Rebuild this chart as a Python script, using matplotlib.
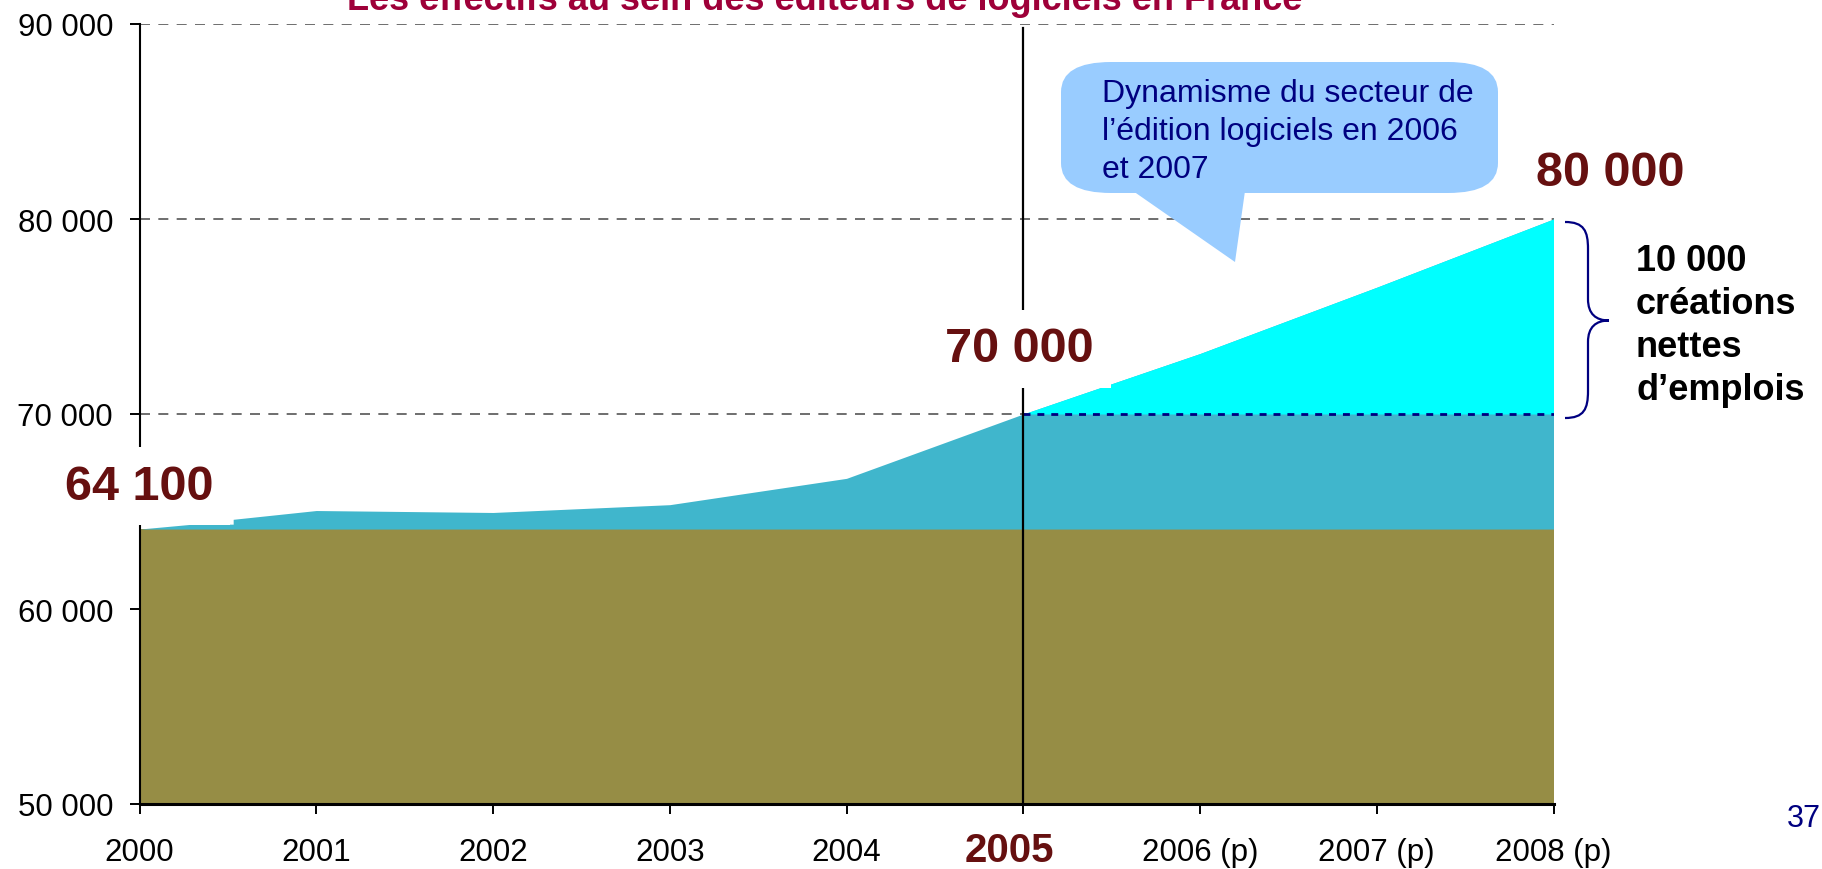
import numpy as np
import matplotlib.pyplot as plt
from matplotlib.patches import FancyBboxPatch, Polygon, PathPatch
from matplotlib.path import Path
from matplotlib.transforms import ScaledTranslation

plt.rcParams['font.family'] = ['Liberation Sans', 'DejaVu Sans']

# effectifs (edge of the area, with the small steps near 2000)
edge_x = [2000, 2000.3, 2000.53, 2000.53, 2001, 2002, 2003, 2004, 2005, 2006, 2007, 2008]
edge_y = [64100, 64350, 64350, 64600, 65050, 64950, 65350, 66700, 70000, 73100, 76500, 80000]
base_2000 = 64100
level_2005 = 70000
level_2008 = 80000

years = [2000, 2001, 2002, 2003, 2004, 2005, 2006, 2007, 2008]
year_labels = ['2000', '2001', '2002', '2003', '2004', '2005',
               '2006 (p)', '2007 (p)', '2008 (p)']
y_ticks = [50000, 60000, 70000, 80000, 90000]
y_labels = ['50 000', '60 000', '70 000', '80 000', '90 000']

olive = '#968D45'
teal = '#40B6CC'
cyan = '#00FFFF'
darkred = '#661010'
navy = '#000080'

W, H = 1822, 870
fig = plt.figure(figsize=(W / 100, H / 100), dpi=100)
ax = fig.add_axes([139.5 / W, 1 - 805 / H, 1414 / W, 780 / H])
ax.set_xlim(2000, 2008)
ax.set_ylim(50000, 90000)

ex = np.array(edge_x)
ey = np.array(edge_y)
ax.fill_between([2000, 2008], 50000, base_2000, color=olive, lw=0, zorder=1)
ax.fill_between(ex, base_2000, ey, color=teal, lw=0, zorder=1)
m = ex >= 2005
ax.fill_between(ex[m], level_2005, ey[m], color=cyan, lw=0, zorder=1.1)

# grid
ax.set_axisbelow(True)
ax.yaxis.grid(True, color='#555555', lw=1.2, linestyle=(0, (6, 5)))
ax.hlines(level_2005, 2005, 2008, colors=navy, lw=2, linestyles=(0, (2.5, 2.5)), zorder=2)
ax.axvline(2005, ymin=0, ymax=0.995, color='black', lw=1.6, zorder=2.2)

ax.set_xticks(years)
ax.set_xticklabels(year_labels)
ax.set_yticks(y_ticks)
ax.set_yticklabels(y_labels)
ax.tick_params(axis='both', labelsize=22.5, length=7, width=1.4, direction='out')
ax.tick_params(axis='x', pad=17)
ax.tick_params(axis='y', pad=12)
lab = ax.get_xticklabels()[5]
lab.set_fontsize(29)
lab.set_fontweight('bold')
lab.set_color(darkred)
lab.set_transform(lab.get_transform() + ScaledTranslation(-0.14, 0.06, fig.dpi_scale_trans))

for s in ['top', 'right']:
    ax.spines[s].set_visible(False)
ax.spines['left'].set_linewidth(1.5)
ax.spines['bottom'].set_linewidth(2.2)

bbox_white = dict(facecolor='white', edgecolor='none', pad=12)
ax.text(2000, 66300, '64 100', fontsize=35, fontweight='bold', color=darkred,
        ha='center', va='center', bbox=bbox_white, zorder=3)
ax.text(2004.98, 73350, '70 000', fontsize=35, fontweight='bold', color=darkred,
        ha='center', va='center', bbox=bbox_white, zorder=3)
ax.text(2008.32, 82360, '80 000', fontsize=35, fontweight='bold', color=darkred,
        ha='center', va='center', zorder=3)

# title, partly cut by the top edge
fig.text(825 / W, 1 - 10 / H, 'Les effectifs au sein des éditeurs de logiciels en France',
         fontsize=26, fontweight='bold', color='#9E0039', ha='center', va='baseline')

# callout bubble
inch = fig.dpi_scale_trans
def pin(x, y):
    return (x / 100, (H - y) / 100)

bx0, by0 = pin(1061, 194)
bx1, by1 = pin(1498, 63)
bubble = FancyBboxPatch((bx0 + 0.3, by0 + 0.18), (bx1 - bx0) - 0.6, (by1 - by0) - 0.36,
                        boxstyle='round,pad=0.3,rounding_size=0.5', mutation_aspect=0.6,
                        facecolor='#99CCFF', edgecolor='none', transform=inch,
                        zorder=5, clip_on=False)
ax.add_artist(bubble)
tail = Polygon([pin(1133, 192), pin(1245, 192), pin(1235, 263)], closed=True,
               facecolor='#99CCFF', edgecolor='none', transform=inch, zorder=5, clip_on=False)
ax.add_artist(tail)
fig.text(1102 / W, 1 - 178 / H, 'Dynamisme du secteur de\nl’édition logiciels en 2006\net 2007',
         fontsize=23, color=navy, ha='left', va='baseline', linespacing=1.34, zorder=6)

# brace for the 10 000 jobs
pts = [(1565, 223), (1584, 223), (1588, 232), (1588, 250),
       (1588, 300), (1588, 315), (1596, 321.5), (1609, 321.5),
       (1596, 321.5), (1588, 328), (1588, 343),
       (1588, 392), (1588, 410), (1584, 419), (1565, 419)]
codes = [Path.MOVETO, Path.CURVE4, Path.CURVE4, Path.CURVE4,
         Path.LINETO, Path.CURVE4, Path.CURVE4, Path.CURVE4,
         Path.CURVE4, Path.CURVE4, Path.CURVE4,
         Path.LINETO, Path.CURVE4, Path.CURVE4, Path.CURVE4]
brace = PathPatch(Path([pin(x, y) for x, y in pts], codes), facecolor='none',
                  edgecolor=navy, lw=1.6, transform=inch, clip_on=False)
ax.add_artist(brace)
fig.text(1636 / W, 1 - 400 / H, '10 000\ncréations\nnettes\nd’emplois',
         fontsize=26, fontweight='bold', color='black', ha='left', va='baseline',
         linespacing=1.3)

fig.text(1821 / W, 1 - 827 / H, '37', fontsize=22, color=navy, ha='right', va='baseline')

fig.savefig('out.png', dpi=100)
